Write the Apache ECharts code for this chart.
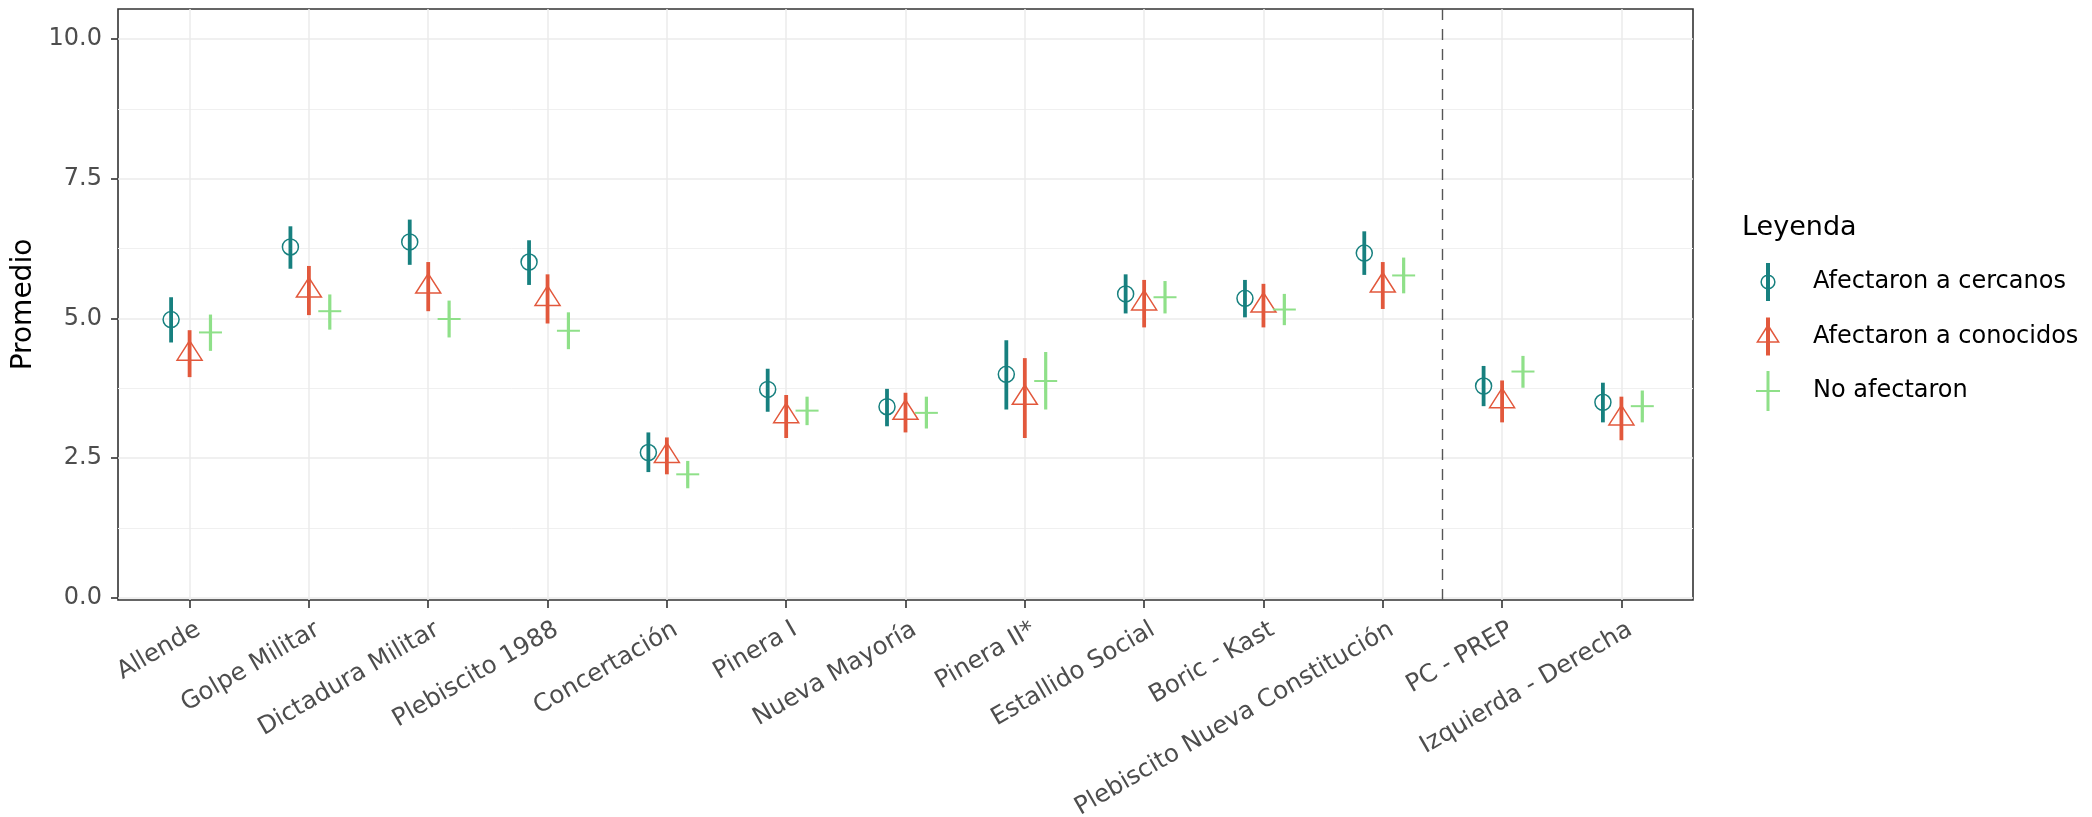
<!DOCTYPE html>
<html>
<head>
<meta charset="utf-8">
<script src="https://cdn.jsdelivr.net/npm/echarts@6/dist/echarts.min.js"></script>
<style>
html,body{margin:0;padding:0;background:#ffffff;}
#chart{width:2092px;height:817px;}
</style>
</head>
<body>
<div id="chart"></div>
<script>
// ---------------- data ----------------
const categories = ['Allende', 'Golpe Militar', 'Dictadura Militar', 'Plebiscito 1988', 'Concertación',
  'Pinera I', 'Nueva Mayoría', 'Pinera II*', 'Estallido Social', 'Boric - Kast',
  'Plebiscito Nueva Constitución', 'PC - PREP', 'Izquierda - Derecha'];

const seriesNames = ['Afectaron a cercanos', 'Afectaron a conocidos', 'No afectaron'];

const cercanosMean = [4.98, 6.28, 6.37, 6.01, 2.60, 3.73, 3.42, 4.00, 5.44, 5.36, 6.17, 3.79, 3.50];
const cercanosLow  = [4.57, 5.89, 5.96, 5.60, 2.25, 3.33, 3.07, 3.37, 5.09, 5.02, 5.78, 3.43, 3.14];
const cercanosHigh = [5.38, 6.65, 6.77, 6.40, 2.96, 4.10, 3.74, 4.61, 5.79, 5.69, 6.56, 4.15, 3.85];

const conocidosMean = [4.37, 5.50, 5.57, 5.35, 2.54, 3.25, 3.31, 3.58, 5.27, 5.23, 5.59, 3.52, 3.21];
const conocidosLow  = [3.95, 5.06, 5.13, 4.91, 2.21, 2.86, 2.96, 2.86, 4.84, 4.84, 5.17, 3.14, 2.82];
const conocidosHigh = [4.79, 5.94, 6.01, 5.79, 2.87, 3.63, 3.67, 4.29, 5.69, 5.62, 6.01, 3.89, 3.60];

const noAfectMean = [4.75, 5.13, 4.99, 4.78, 2.21, 3.35, 3.31, 3.88, 5.38, 5.16, 5.77, 4.05, 3.43];
const noAfectLow  = [4.42, 4.80, 4.66, 4.45, 1.96, 3.09, 3.03, 3.37, 5.09, 4.88, 5.45, 3.76, 3.14];
const noAfectHigh = [5.07, 5.43, 5.32, 5.11, 2.45, 3.60, 3.60, 4.40, 5.67, 5.44, 6.09, 4.33, 3.71];

const yTicks = [0, 2.5, 5, 7.5, 10];
const yMinorTicks = [1.25, 3.75, 6.25, 8.75];
const separatorAfterIndex = 10; // dashed line between 'Plebiscito Nueva Constitución' and 'PC - PREP'

// ---------------- styles ----------------
const FONT = 'DejaVu Sans';
const colors = ['#17807F', '#E2583C', '#8FE089'];
const dodge = [-0.155, 0, 0.175];
const xIdx = categories.map((c, i) => i);
const X_MIN = -0.6, X_MAX = 12.6;
const LABEL_SHIFT = 0.075; // ggplot hjust=1/vjust=1 anchoring of rotated labels
const Y_MIN = -0.04, Y_MAX = 10.54;

function rows(mean, lo, hi) {
  return xIdx.map(i => [i, mean[i], lo[i], hi[i]]);
}

function makeRender(kind, offset, color, barWidth) {
  return function (params, api) {
    const x = api.value(0) + offset;
    const m = api.coord([x, api.value(1)]);
    const lo = api.coord([x, api.value(2)]);
    const hi = api.coord([x, api.value(3)]);
    const children = [{
      type: 'line',
      shape: { x1: lo[0], y1: lo[1], x2: hi[0], y2: hi[1] },
      style: { stroke: color, lineWidth: barWidth }
    }];
    if (kind === 'circle') {
      children.push({
        type: 'circle',
        shape: { cx: m[0], cy: m[1], r: 8 },
        style: { fill: 'none', stroke: color, lineWidth: 1.5 }
      });
    } else if (kind === 'triangle') {
      const w = 12.5, h = 19.5;
      children.push({
        type: 'polygon',
        shape: { points: [[m[0], m[1] - h * 2 / 3], [m[0] + w, m[1] + h / 3], [m[0] - w, m[1] + h / 3]] },
        style: { fill: 'none', stroke: color, lineWidth: 1.5 }
      });
    } else {
      children.push({
        type: 'line',
        shape: { x1: m[0] - 11.5, y1: m[1], x2: m[0] + 11.5, y2: m[1] },
        style: { stroke: color, lineWidth: 2 }
      });
      children.push({
        type: 'line',
        shape: { x1: m[0], y1: m[1] - 11.5, x2: m[0], y2: m[1] + 11.5 },
        style: { stroke: color, lineWidth: 2 }
      });
    }
    return { type: 'group', children: children };
  };
}

// legend icons (60 x 40 box, glyph centred at x=20)
const corner = 'M0 0 L0.01 0 L0.01 0.01 Z M60 40 L59.99 40 L59.99 39.99 Z ';
const iconCircle = 'path://' + corner +
  'M18 1 L18 39 L22 39 L22 1 Z ' +
  'M27.6 20 A7.6 7.6 0 1 0 12.4 20 A7.6 7.6 0 1 0 27.6 20 Z ' +
  'M26.1 20 A6.1 6.1 0 1 1 13.9 20 A6.1 6.1 0 1 1 26.1 20 Z';
const iconTriangle = 'path://' + corner +
  'M18 1 L18 39 L22 39 L22 1 Z ' +
  'M20 7.33 L8 26.33 L32 26.33 Z ' +
  'M20 10.14 L29.28 24.83 L10.72 24.83 Z';
const iconCross = 'path://' + corner +
  'M18.5 0 L18.5 40 L21.5 40 L21.5 0 Z ' +
  'M8 19 L8 21 L32 21 L32 19 Z';

const chart = echarts.init(document.getElementById('chart'), null, { renderer: 'canvas' });

const baseSeries = (name, kind, k, mean, lo, hi, bw) => ({
  name: name,
  type: 'custom',
  xAxisIndex: 0,
  yAxisIndex: 0,
  renderItem: makeRender(kind, dodge[k], colors[k], bw),
  dimensions: ['x', 'mean', 'lo', 'hi'],
  encode: { x: 0, y: [1, 2, 3] },
  itemStyle: { color: colors[k] },
  data: rows(mean, lo, hi),
  silent: true,
  z: 3 + k
});

const s0 = baseSeries(seriesNames[0], 'circle', 0, cercanosMean, cercanosLow, cercanosHigh, 3.8);
const s1 = baseSeries(seriesNames[1], 'triangle', 1, conocidosMean, conocidosLow, conocidosHigh, 3.8);
const s2 = baseSeries(seriesNames[2], 'cross', 2, noAfectMean, noAfectLow, noAfectHigh, 3.2);
s0.markLine = {
  silent: true,
  symbol: 'none',
  label: { show: false },
  lineStyle: { type: [11, 9], color: '#555555', width: 1.4 },
  data: [{ xAxis: separatorAfterIndex + 0.5 }]
};

const option = {
  animation: false,
  backgroundColor: '#ffffff',
  textStyle: { fontFamily: FONT },
  grid: {
    left: 118, right: 399, top: 9, bottom: 217,
    containLabel: false, outerBoundsMode: 'none',
    show: true, borderColor: '#333333', borderWidth: 1.6, backgroundColor: 'transparent'
  },
  title: {
    text: 'Leyenda', left: 1742, top: 214, padding: 0,
    textStyle: { fontFamily: FONT, fontSize: 27, fontWeight: 'normal', color: '#000000' }
  },
  legend: {
    orient: 'vertical', left: 1748, top: 262, padding: 0,
    itemWidth: 60, itemHeight: 40, itemGap: 14.5,
    textStyle: { fontFamily: FONT, fontSize: 24, color: '#000000' },
    selectedMode: false,
    data: [
      { name: seriesNames[0], icon: iconCircle },
      { name: seriesNames[1], icon: iconTriangle },
      { name: seriesNames[2], icon: iconCross }
    ]
  },
  xAxis: [{
    type: 'value', min: X_MIN, max: X_MAX, position: 'bottom',
    axisLine: { show: false, onZero: false },
    axisTick: { show: true, length: 8, lineStyle: { color: '#333333', width: 1.6 }, customValues: xIdx },
    axisLabel: { show: false, customValues: xIdx },
    splitLine: { show: true, lineStyle: { color: '#EBEBEB', width: 1.5 }, customValues: xIdx }
  }, {
    // label-only axis, same scale nudged so labels sit like ggplot's hjust=1 anchoring
    type: 'value', min: X_MIN - LABEL_SHIFT, max: X_MAX - LABEL_SHIFT, position: 'bottom',
    axisLine: { show: false, onZero: false },
    axisTick: { show: false, customValues: xIdx },
    splitLine: { show: false },
    axisLabel: {
      show: true, customValues: xIdx, rotate: 30, margin: 28,
      fontFamily: FONT, fontSize: 24.5, color: '#4D4D4D',
      formatter: v => categories[Math.round(v)]
    }
  }],
  yAxis: [{
    type: 'value', min: Y_MIN, max: Y_MAX, position: 'left',
    name: 'Promedio', nameLocation: 'middle', nameGap: 78, nameRotate: 90,
    nameTextStyle: { fontFamily: FONT, fontSize: 28, color: '#000000' },
    axisLine: { show: false, onZero: false },
    axisTick: { show: true, length: 7, lineStyle: { color: '#333333', width: 1.6 }, customValues: yTicks },
    axisLabel: {
      show: true, customValues: yTicks, margin: 16,
      fontFamily: FONT, fontSize: 24, color: '#4D4D4D',
      formatter: v => v.toFixed(1)
    },
    splitLine: { show: true, lineStyle: { color: '#EBEBEB', width: 1.5 }, customValues: yTicks }
  }, {
    type: 'value', min: Y_MIN, max: Y_MAX, position: 'left',
    axisLine: { show: false, onZero: false },
    axisTick: { show: false, customValues: yMinorTicks },
    axisLabel: { show: false, customValues: yMinorTicks },
    splitLine: { show: true, lineStyle: { color: '#F0F0F0', width: 1 }, customValues: yMinorTicks }
  }],
  series: [s0, s1, s2]
};

chart.setOption(option);
</script>
</body>
</html>
